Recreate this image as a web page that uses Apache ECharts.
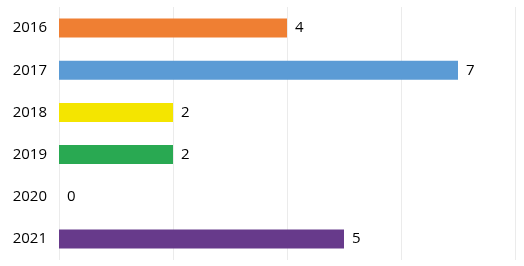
<!DOCTYPE html>
<html>
<head>
<meta charset="utf-8">
<script src="https://cdn.jsdelivr.net/npm/echarts@6/dist/echarts.min.js"></script>
<style>html,body{margin:0;padding:0;background:#fff}#c{width:524px;height:266px}</style>
</head>
<body>
<div id="c"></div>
<script>
const categories = ['2016', '2017', '2018', '2019', '2020', '2021'];
const values = [4, 7, 2, 2, 0, 5];
const colors = ['#EF7F33', '#5B9BD5', '#F4E500', '#29A952', '#B0B0B0', '#673A8B'];

const chart = echarts.init(document.getElementById('c'));
chart.setOption({
  animation: false,
  grid: { left: 59, right: 9, top: 7, bottom: 6, containLabel: false },
  xAxis: {
    type: 'value', min: 0, max: 8, interval: 2,
    axisLabel: { show: false }, axisLine: { show: false }, axisTick: { show: false },
    splitLine: { show: true, lineStyle: { color: '#ebebeb', width: 1 } }
  },
  yAxis: {
    type: 'category', data: categories, inverse: true,
    axisLine: { show: false }, axisTick: { show: false },
    axisLabel: { color: '#000', fontSize: 15, fontFamily: 'Open Sans', margin: 12, lineHeight: 15, padding: [5, 0, 0, 0] }
  },
  series: [{
    type: 'bar',
    data: values.map((v, i) => ({ value: v, itemStyle: { color: colors[i] } })),
    barWidth: '45%',
    label: { show: true, position: 'right', distance: 8, color: '#000', fontSize: 15, fontFamily: 'Open Sans', lineHeight: 15, padding: [5, 0, 0, 0] }
  }]
});
</script>
</body>
</html>
